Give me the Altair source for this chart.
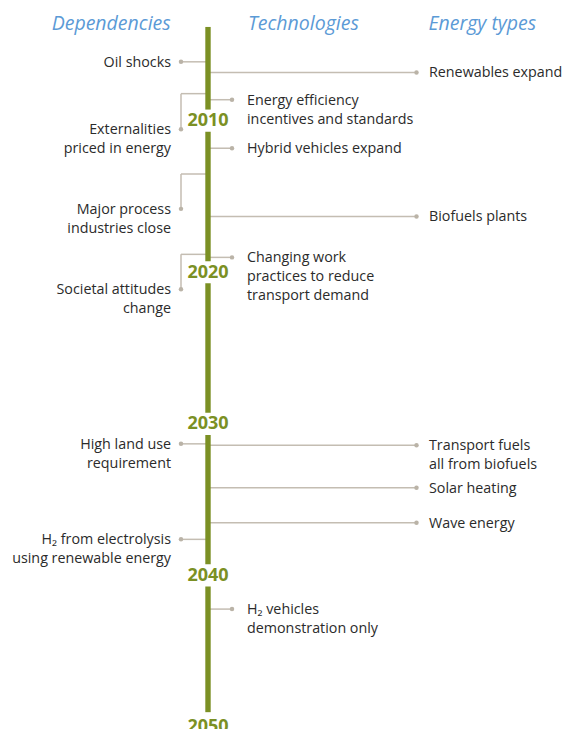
import altair as alt
import pandas as pd

# ---------------- data ----------------
column_titles = ["Dependencies", "Technologies", "Energy types"]

dep_labels = [
    "Oil shocks",
    "Externalities\npriced in energy",
    "Major process\nindustries close",
    "Societal attitudes\nchange",
    "High land use\nrequirement",
    "H₂ from electrolysis\nusing renewable energy",
]
dep_years = [2006.1, 2008.2, 2013.5, 2018.8, 2031.3, 2037.6]        # where the link meets the timeline
dep_label_years = [2006.1, 2010.55, 2015.8, 2021.1, 2031.3, 2037.6]  # where the label sits

tech_labels = [
    "Energy efficiency\nincentives and standards",
    "Hybrid vehicles expand",
    "Changing work\npractices to reduce\ntransport demand",
    "H₂ vehicles\ndemonstration only",
]
tech_years = [2008.6, 2011.8, 2019.0, 2042.2]

energy_labels = [
    "Renewables expand",
    "Biofuels plants",
    "Transport fuels\nall from biofuels",
    "Solar heating",
    "Wave energy",
]
energy_years = [2006.8, 2016.3, 2031.4, 2034.2, 2036.5]

decades = [2010, 2020, 2030, 2040, 2050]
timeline_start = 2003.8
timeline_end = 2049.0

# ---------------- styles / layout ----------------
OLIVE = "#7b9024"
BLUE = "#5b9ad6"
GREY = "#c4bdb2"
DOT = "#bab3a7"
TEXT = "#2b2b2b"
FONT = "Open Sans"
FS = 14.3
LH = 18.8
DY = -6

X_BAR = 200
X_DEP_DOT, X_DEP_TXT = 173, 163
X_TECH_DOT, X_TECH_TXT = 224, 239
X_EN_DOT, X_EN_TXT = 408.5, 421

W, H = 561, 721
y_scale = alt.Scale(domain=[2002.55, 2050.11], reverse=True, nice=False, zero=False)

def Y(field):
    return alt.Y(field, type="quantitative", scale=y_scale, axis=None)

# timeline segments, broken around the decade labels
gap_before, gap_after = 0.75, 0.71
seg0, seg1 = [], []
start = timeline_start
for d in decades:
    end = min(d - gap_before, timeline_end)
    if end > start:
        seg0.append(start)
        seg1.append(end)
    start = d + gap_after
bar_df = pd.DataFrame({"y0": seg0, "y1": seg1})

dep_df = pd.DataFrame({"label": dep_labels, "year": dep_years, "label_year": dep_label_years})
tech_df = pd.DataFrame({"label": tech_labels, "year": tech_years})
en_df = pd.DataFrame({"label": energy_labels, "year": energy_years})
dec_df = pd.DataFrame({"year": decades, "label": [str(d) for d in decades]})

layers = []

# dependencies connectors
layers.append(alt.Chart(dep_df).mark_rule(color=GREY, strokeWidth=1.5).encode(
    x=alt.value(X_DEP_DOT), x2=alt.value(X_BAR), y=Y("year")))
layers.append(alt.Chart(dep_df).mark_rule(color=GREY, strokeWidth=1.5).encode(
    x=alt.value(X_DEP_DOT), y=Y("year"), y2="label_year"))
layers.append(alt.Chart(dep_df).mark_circle(color=DOT, size=20, opacity=1).encode(
    x=alt.value(X_DEP_DOT), y=Y("label_year")))
layers.append(alt.Chart(dep_df).mark_text(
    align="right", baseline="top", dy=DY, font=FONT, fontSize=FS, color=TEXT,
    lineBreak="\n", lineHeight=LH).encode(
    x=alt.value(X_DEP_TXT), y=Y("label_year"), text="label:N"))

# technologies
layers.append(alt.Chart(tech_df).mark_rule(color=GREY, strokeWidth=1.5).encode(
    x=alt.value(X_BAR), x2=alt.value(X_TECH_DOT), y=Y("year")))
layers.append(alt.Chart(tech_df).mark_circle(color=DOT, size=20, opacity=1).encode(
    x=alt.value(X_TECH_DOT), y=Y("year")))
layers.append(alt.Chart(tech_df).mark_text(
    align="left", baseline="top", dy=DY, font=FONT, fontSize=FS, color=TEXT,
    lineBreak="\n", lineHeight=LH).encode(
    x=alt.value(X_TECH_TXT), y=Y("year"), text="label:N"))

# energy types
layers.append(alt.Chart(en_df).mark_rule(color=GREY, strokeWidth=1.5).encode(
    x=alt.value(X_BAR), x2=alt.value(X_EN_DOT), y=Y("year")))
layers.append(alt.Chart(en_df).mark_circle(color=DOT, size=20, opacity=1).encode(
    x=alt.value(X_EN_DOT), y=Y("year")))
layers.append(alt.Chart(en_df).mark_text(
    align="left", baseline="top", dy=DY, font=FONT, fontSize=FS, color=TEXT,
    lineBreak="\n", lineHeight=LH).encode(
    x=alt.value(X_EN_TXT), y=Y("year"), text="label:N"))

# timeline bar
layers.append(alt.Chart(bar_df).mark_rule(color=OLIVE, strokeWidth=5.4, strokeCap="butt").encode(
    x=alt.value(X_BAR), y=Y("y0"), y2="y1"))

# decade labels
layers.append(alt.Chart(dec_df).mark_text(
    align="center", baseline="middle", font=FONT, fontSize=18, fontWeight="bold", color=OLIVE).encode(
    x=alt.value(X_BAR), y=Y("year"), text="label:N"))

# column titles
title_x = [162.7, 240, 420.5]
title_align = ["right", "left", "left"]
for t, xv, al in zip(column_titles, title_x, title_align):
    layers.append(alt.Chart(pd.DataFrame({"t": [t]})).mark_text(
        align=al, baseline="middle", font=FONT, fontSize=19.5, fontStyle="italic", color=BLUE).encode(
        x=alt.value(xv), y=alt.value(15.5), text="t:N"))

chart = alt.layer(*layers).properties(
    width=W, height=H, padding=0, autosize="none"
).configure_view(stroke=None)

chart.save("out.html", embed_options={"renderer": "svg", "actions": False})
